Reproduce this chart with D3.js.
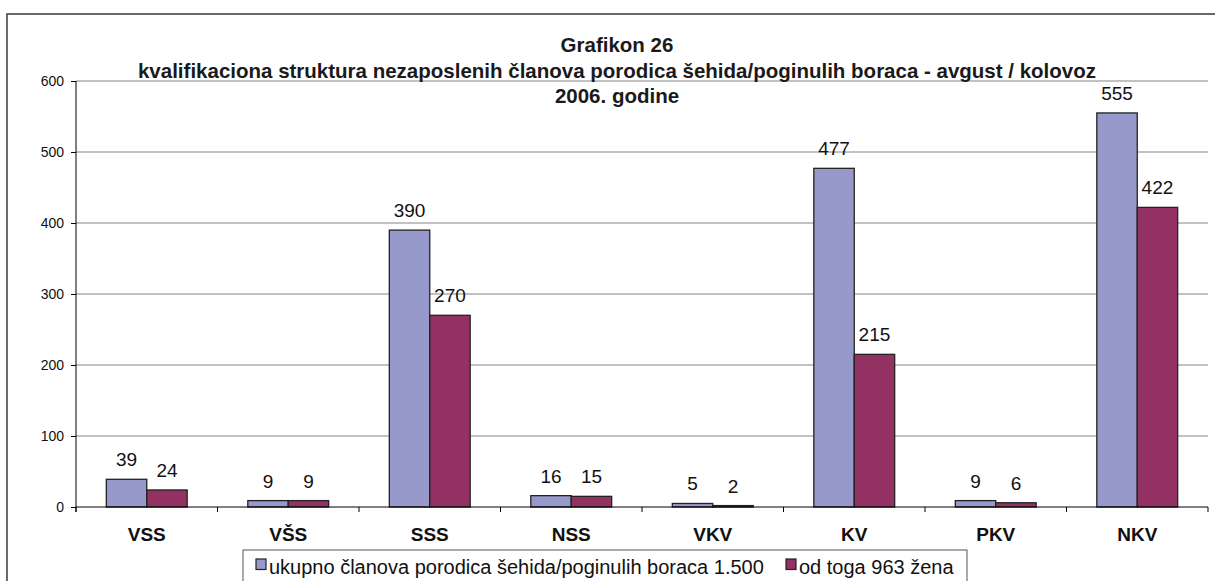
<!DOCTYPE html>
<html>
<head>
<meta charset="utf-8">
<script src="https://cdn.jsdelivr.net/npm/d3@7"></script>
<style>
  body { margin: 0; background: #fff; }
  svg { display: block; font-family: "Liberation Sans", Arial, sans-serif; }
</style>
</head>
<body>
<svg id="chart" width="1215" height="581"></svg>
<script>
// chart data
let categories = ['VSS', 'VŠS', 'SSS', 'NSS', 'VKV', 'KV', 'PKV', 'NKV'];
let seriesNames = ['ukupno članova porodica šehida/poginulih boraca 1.500', 'od toga 963 žena'];
let totalValues = [39, 9, 390, 16, 5, 477, 9, 555];
let womenValues = [24, 9, 270, 15, 2, 215, 6, 422];
let yTicks = [0, 100, 200, 300, 400, 500, 600];
let titleLines = ['Grafikon 26',
  'kvalifikaciona struktura nezaposlenih članova porodica šehida/poginulih boraca - avgust / kolovoz',
  '2006. godine'];
let colors = ['#9899cb', '#933162'];

function init() {
  let svg = d3.select('svg#chart');

  let left = 76, right = 1208, top = 81, bottom = 507;

  // outer frame of the chart area (runs off the page on right/bottom)
  svg.append('rect')
    .attr('x', 7).attr('y', 14)
    .attr('width', 1260).attr('height', 620)
    .attr('fill', 'none')
    .attr('stroke', '#3a3a3a')
    .attr('stroke-width', 1.5);

  let xScale = d3.scaleBand()
    .domain(categories)
    .range([left, right])
    .paddingInner(0).paddingOuter(0);

  let xSub = d3.scaleBand()
    .domain([0, 1])
    .range([0, xScale.bandwidth()])
    .paddingInner(0).paddingOuter(0.75);

  let yScale = d3.scaleLinear()
    .domain([0, 600])
    .range([bottom, top]);

  // gridlines
  svg.append('g')
    .selectAll('line')
    .data(yTicks.filter(d => d > 0))
    .enter().append('line')
    .attr('x1', left).attr('x2', right)
    .attr('y1', d => yScale(d)).attr('y2', d => yScale(d))
    .attr('stroke', '#858585')
    .attr('stroke-width', 1);

  // y axis
  let yAxis = d3.axisLeft(yScale).tickValues(yTicks).tickSize(5).tickPadding(7);
  let gY = svg.append('g').attr('transform', `translate(${left},0)`).call(yAxis);
  gY.select('.domain').attr('stroke', '#000').attr('d', `M0,${top}V${bottom + 5}`);
  gY.selectAll('.tick line').attr('stroke', '#000');
  gY.selectAll('text')
    .style('font-family', '"Liberation Sans", Arial, sans-serif')
    .style('font-size', '14px')
    .attr('fill', '#111');

  // bars
  let data = categories.map((c, i) => ({ cat: c, vals: [totalValues[i], womenValues[i]] }));
  let groups = svg.append('g')
    .selectAll('g')
    .data(data)
    .enter().append('g')
    .attr('transform', d => `translate(${xScale(d.cat)},0)`);

  groups.selectAll('rect')
    .data(d => d.vals.map((v, j) => ({ v: v, j: j })))
    .enter().append('rect')
    .attr('x', d => xSub(d.j))
    .attr('width', xSub.bandwidth())
    .attr('y', d => yScale(d.v))
    .attr('height', d => bottom - yScale(d.v))
    .attr('fill', d => colors[d.j])
    .attr('stroke', '#222')
    .attr('stroke-width', 1.3);

  // value labels
  groups.selectAll('text')
    .data(d => d.vals.map((v, j) => ({ v: v, j: j })))
    .enter().append('text')
    .attr('x', d => xSub(d.j) + xSub.bandwidth() / 2)
    .attr('y', d => yScale(d.v) - 13)
    .attr('text-anchor', 'middle')
    .style('font-size', '19px')
    .attr('fill', '#111')
    .text(d => d.v);

  // x axis
  let xAxis = d3.axisBottom(xScale).tickSize(0).tickPadding(21);
  let gX = svg.append('g').attr('transform', `translate(0,${bottom})`).call(xAxis);
  gX.select('.domain').attr('stroke', '#000').attr('d', `M${left},0H${right}`);
  gX.selectAll('text')
    .style('font-family', '"Liberation Sans", Arial, sans-serif')
    .style('font-size', '19px')
    .style('font-weight', 'bold')
    .attr('fill', '#111');
  // boundary ticks between categories
  gX.selectAll('line.sep')
    .data(categories.concat(['end']))
    .enter().append('line')
    .attr('class', 'sep')
    .attr('x1', (d, i) => i < categories.length ? xScale(d) : right)
    .attr('x2', (d, i) => i < categories.length ? xScale(d) : right)
    .attr('y1', 0).attr('y2', 5)
    .attr('stroke', '#000');

  // title
  svg.append('g')
    .selectAll('text')
    .data(titleLines)
    .enter().append('text')
    .attr('x', 617)
    .attr('y', (d, i) => 52 + i * 25.5)
    .attr('text-anchor', 'middle')
    .style('font-size', '20.5px')
    .style('font-weight', 'bold')
    .attr('fill', '#1a1a1a')
    .text(d => d);

  // legend
  let legend = svg.append('g');
  legend.append('rect')
    .attr('x', 243).attr('y', 550)
    .attr('width', 724).attr('height', 33)
    .attr('fill', '#fff')
    .attr('stroke', '#555')
    .attr('stroke-width', 1);
  let legendX = [256, 786];
  seriesNames.forEach((name, i) => {
    legend.append('rect')
      .attr('x', legendX[i]).attr('y', 559)
      .attr('width', 10).attr('height', 10.5)
      .attr('fill', colors[i])
      .attr('stroke', '#222')
      .attr('stroke-width', 1.2);
    legend.append('text')
      .attr('x', legendX[i] + 13)
      .attr('y', 574)
      .style('font-size', '20px')
      .attr('fill', '#111')
      .text(name);
  });
}

init();
</script>
</body>
</html>
